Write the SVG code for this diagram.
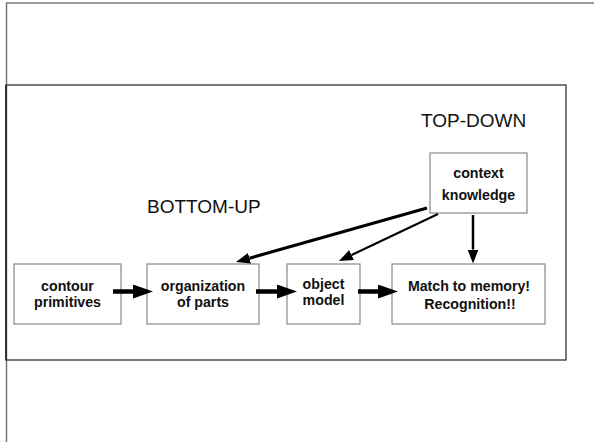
<svg xmlns="http://www.w3.org/2000/svg" width="594" height="442" viewBox="0 0 594 442">
<defs>
<style>
.box{fill:#fff;stroke:#888;stroke-width:1.2}
.t{font-family:"Liberation Sans",Arial,sans-serif;font-weight:bold;font-size:14.2px;fill:#111;text-anchor:middle}
.lbl{font-family:"Liberation Sans",Arial,sans-serif;font-size:19px;fill:#111}
.thick{stroke:#000;stroke-width:4.5;fill:none}
.thin{stroke:#000;fill:none}
</style>
<marker id="big" markerUnits="userSpaceOnUse" viewBox="0 0 20 14" refX="0" refY="7" markerWidth="20" markerHeight="14" orient="auto">
<path d="M0,0 L20,7 L0,14 z" fill="#000"/>
</marker>
<marker id="small" markerUnits="userSpaceOnUse" viewBox="0 0 14 11" refX="0" refY="5.5" markerWidth="14" markerHeight="11" orient="auto">
<path d="M0,0 L14,5.5 L0,11 z" fill="#000"/>
</marker>
</defs>
<rect width="594" height="442" fill="#fff"/>
<g id="frame">
<line x1="6" y1="3" x2="594" y2="3" stroke="#777" stroke-width="1.5"/>
<line x1="6.5" y1="3" x2="6.5" y2="442" stroke="#777" stroke-width="1.5"/>
<rect x="6" y="85" width="560" height="275" fill="none" stroke="#333" stroke-width="1.3"/>
<line x1="6" y1="85" x2="6" y2="360" stroke="#333" stroke-width="2"/>
</g>
<text class="lbl" x="421" y="127">TOP-DOWN</text>
<text class="lbl" x="147" y="213">BOTTOM-UP</text>
<g id="contour">
<rect class="box" x="14" y="264" width="107" height="60"/>
<text class="t" x="67.5" y="290.5">contour</text>
<text class="t" x="67.5" y="306.5">primitives</text>
</g>
<g id="organization">
<rect class="box" x="147" y="264" width="112" height="60"/>
<text class="t" x="203" y="290.5">organization</text>
<text class="t" x="203" y="306.5">of parts</text>
</g>
<g id="object">
<rect class="box" x="287" y="264" width="73" height="60"/>
<text class="t" x="323.5" y="289">object</text>
<text class="t" x="323.5" y="305">model</text>
</g>
<g id="match">
<rect class="box" x="392" y="264" width="153" height="60"/>
<text class="t" x="469" y="291">Match to memory!</text>
<text class="t" x="470" y="309">Recognition!!</text>
</g>
<g id="context">
<rect class="box" x="430" y="153" width="97" height="60"/>
<text class="t" x="478.5" y="178">context</text>
<text class="t" x="478.5" y="200">knowledge</text>
</g>
<g id="connectors">
<line class="thick" x1="113" y1="291.5" x2="133" y2="291.5" marker-end="url(#big)"/>
<line class="thick" x1="256" y1="291.5" x2="277" y2="291.5" marker-end="url(#big)"/>
<line class="thick" x1="358" y1="291.5" x2="378" y2="291.5" marker-end="url(#big)"/>
<line class="thin" stroke-width="3" x1="427" y1="208" x2="249.5" y2="258.2" marker-end="url(#small)"/>
<line class="thin" stroke-width="2" x1="438" y1="214" x2="351.6" y2="255" marker-end="url(#small)"/>
<line class="thin" stroke-width="2.5" x1="473" y1="215" x2="473" y2="249.5" marker-end="url(#small)"/>
</g>
</svg>
